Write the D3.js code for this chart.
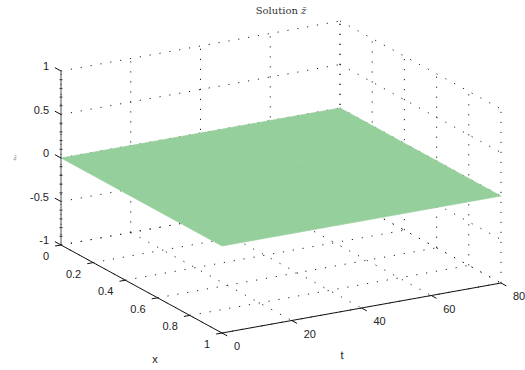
<!DOCTYPE html>
<html>
<head>
<meta charset="utf-8">
<script src="https://cdn.jsdelivr.net/npm/d3@7"></script>
<style>
  html, body { margin: 0; padding: 0; background: #fff; }
  svg { display: block; }
</style>
</head>
<body>
<svg id="chart" width="525" height="370"></svg>
<script>
// Tick values for each axis
const xTicks = [0, 0.2, 0.4, 0.6, 0.8, 1];
const tTicks = [0, 20, 40, 60, 80];
const zTicks = [-1, -0.5, 0, 0.5, 1];
const xTickLabels = ["0", "0.2", "0.4", "0.6", "0.8", "1"];
const tTickLabels = ["0", "20", "40", "60", "80"];
const zTickLabels = ["-1", "-0.5", "0", "0.5", "1"];

// Surface sample grid and the solution values z̄(x, t) on it
const xGrid = [0, 0.2, 0.4, 0.6, 0.8, 1];
const tGrid = [0, 10, 20, 30, 40, 50, 60, 70, 80];
const zbar = [
  [0, 0, 0, 0, 0, 0, 0, 0, 0],
  [0, 0, 0, 0, 0, 0, 0, 0, 0],
  [0, 0, 0, 0, 0, 0, 0, 0, 0],
  [0, 0, 0, 0, 0, 0, 0, 0, 0],
  [0, 0, 0, 0, 0, 0, 0, 0, 0],
  [0, 0, 0, 0, 0, 0, 0, 0, 0]
];

const svg = d3.select("#chart");

// Normalised axis scales, combined into an orthographic view projection
const sx = d3.scaleLinear().domain([0, 1]).range([0, 1]);
const st = d3.scaleLinear().domain([0, 80]).range([0, 1]);
const sz = d3.scaleLinear().domain([-1, 1]).range([-1, 1]);

const origin = [61, 158];          // screen position of x=0, t=0, z=0
const ex = [161, 88];              // full x range
const et = [279, -50];             // full t range
const ez = [0, -87];               // one z unit

function P(x, t, z) {
  const a = sx(x), b = st(t), c = sz(z);
  return [origin[0] + a * ex[0] + b * et[0] + c * ez[0],
          origin[1] + a * ex[1] + b * et[1] + c * ez[1]];
}

const line = d3.line();
const gridG = svg.append("g")
  .attr("fill", "none")
  .attr("stroke", "#222")
  .attr("stroke-width", 1)
  .attr("stroke-dasharray", "1.2,8.8");

const xMax = 1, tMax = 80, zMin = -1, zMax = 1;

// Floor grid (z = -1)
xTicks.forEach(x => gridG.append("path").attr("d", line([P(x, 0, zMin), P(x, tMax, zMin)])));
tTicks.forEach(t => gridG.append("path").attr("d", line([P(0, t, zMin), P(xMax, t, zMin)])));
// Back wall x = 0
tTicks.forEach(t => gridG.append("path").attr("d", line([P(0, t, zMin), P(0, t, zMax)])));
zTicks.forEach(z => gridG.append("path").attr("d", line([P(0, 0, z), P(0, tMax, z)])));
// Back wall t = 80
xTicks.forEach(x => gridG.append("path").attr("d", line([P(x, tMax, zMin), P(x, tMax, zMax)])));
zTicks.forEach(z => gridG.append("path").attr("d", line([P(0, tMax, z), P(xMax, tMax, z)])));

// Surface
const cells = [];
for (let i = 0; i < xGrid.length - 1; i++) {
  for (let j = 0; j < tGrid.length - 1; j++) {
    cells.push([
      P(xGrid[i], tGrid[j], zbar[i][j]),
      P(xGrid[i], tGrid[j + 1], zbar[i][j + 1]),
      P(xGrid[i + 1], tGrid[j + 1], zbar[i + 1][j + 1]),
      P(xGrid[i + 1], tGrid[j], zbar[i + 1][j])
    ]);
  }
}
svg.append("g").selectAll("path").data(cells).join("path")
  .attr("d", d => line(d) + "Z")
  .attr("fill", "#95cf9b")
  .attr("stroke", "#95cf9b")
  .attr("stroke-width", 0.6)
  .attr("stroke-linejoin", "round");

// Axes
const axG = svg.append("g").attr("stroke", "#111").attr("fill", "none");
axG.append("path").attr("d", line([P(0, 0, zMin), P(xMax, 0, zMin)])).attr("stroke-width", 1);
axG.append("path").attr("d", line([P(xMax, 0, zMin), P(xMax, tMax, zMin)])).attr("stroke-width", 1);
axG.append("path").attr("d", line([P(0, 0, zMin), P(0, 0, zMax)]))
  .attr("stroke", "#555").attr("stroke-width", 1);

// Unit vectors for tick directions
function unit(v, len) { const n = Math.hypot(v[0], v[1]); return [v[0] / n * len, v[1] / n * len]; }
const negT = unit([-et[0], -et[1]], 6);
const posX = unit(ex, 6);
const negX = unit([-ex[0], -ex[1]], 7);

xTicks.forEach(x => {
  const p = P(x, 0, zMin);
  axG.append("path").attr("d", line([p, [p[0] + negT[0], p[1] + negT[1]]]));
});
tTicks.forEach(t => {
  const p = P(xMax, t, zMin);
  axG.append("path").attr("d", line([p, [p[0] + posX[0], p[1] + posX[1]]]));
});
zTicks.forEach(z => {
  const p = P(0, 0, z);
  axG.append("path").attr("d", line([p, [p[0] + negX[0], p[1] + negX[1]]]));
});
// Minor z ticks
d3.range(-10, 11).map(k => k / 10).filter(z => !zTicks.includes(z)).forEach(z => {
  const p = P(0, 0, z);
  axG.append("path").attr("d", line([[p[0] - 1.5, p[1]], [p[0] + 1.5, p[1]]]))
    .attr("stroke", "#333").attr("stroke-width", 1);
});

// Tick labels
const lab = svg.append("g")
  .attr("font-family", "'Liberation Sans', Arial, sans-serif")
  .attr("font-size", 11)
  .attr("fill", "#222");

xTicks.forEach((x, i) => {
  const p = P(x, 0, zMin);
  lab.append("text").attr("x", p[0] - 12).attr("y", p[1] + 15)
    .attr("text-anchor", "end").text(xTickLabels[i]);
});
tTicks.forEach((t, i) => {
  const p = P(xMax, t, zMin);
  lab.append("text").attr("x", p[0] + 12).attr("y", p[1] + 17)
    .attr("text-anchor", "start").text(tTickLabels[i]);
});
zTicks.forEach((z, i) => {
  const p = P(0, 0, z);
  lab.append("text").attr("x", p[0] - 12).attr("y", p[1] - 1)
    .attr("text-anchor", "end").text(zTickLabels[i]);
});

// Axis labels
lab.append("text").attr("x", 155).attr("y", 363).attr("text-anchor", "middle").text("x");
lab.append("text").attr("x", 342).attr("y", 359).attr("text-anchor", "middle").text("t");
svg.append("text").attr("x", 15).attr("y", 160)
  .attr("font-family", "'DejaVu Serif', serif").attr("font-size", 6)
  .attr("font-style", "italic").attr("fill", "#777").attr("text-anchor", "middle").text("z̄");

// Title
const title = svg.append("text").attr("x", 281).attr("y", 14)
  .attr("font-family", "'DejaVu Serif', 'Liberation Serif', serif")
  .attr("font-size", 10).attr("fill", "#333").attr("text-anchor", "middle");
title.append("tspan").text("Solution ");
title.append("tspan").attr("font-style", "italic").text("z̄");
</script>
</body>
</html>
